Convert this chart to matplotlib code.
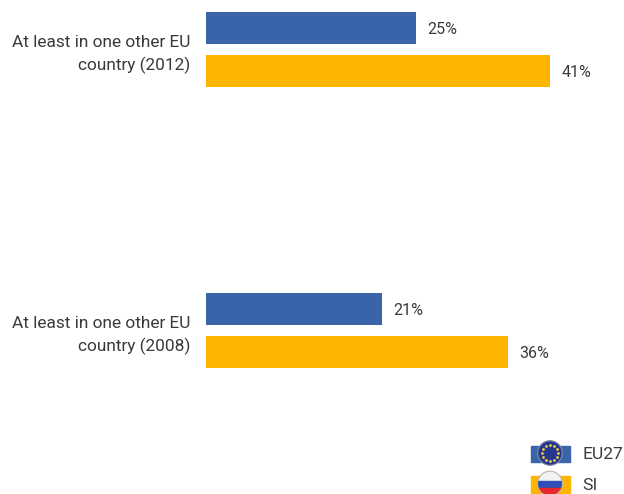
import numpy as np
import matplotlib
matplotlib.use("Agg")
import matplotlib.pyplot as plt
from matplotlib.patches import Circle, Rectangle

plt.rcParams["font.family"] = ["Roboto", "Liberation Sans", "DejaVu Sans"]

categories = ["At least in one other EU\ncountry (2012)", "At least in one other EU\ncountry (2008)"]
eu27 = [25, 21]
si = [41, 36]
series_names = ["EU27", "SI"]

BLUE = "#3A64A9"
ORANGE = "#FFB400"
TEXT = "#3a3a3a"

W, H = 624, 494
fig = plt.figure(figsize=(W / 100, H / 100), dpi=100)

ax = fig.add_axes([206 / W, 0, 418 / W, 1])
y = np.arange(len(categories))
ax.barh(y - 0.0765, eu27, height=0.114, color=BLUE)
ax.barh(y + 0.0765, si, height=0.114, color=ORANGE)
ax.set_xlim(0, 49.8)
ax.set_ylim(1.582, -0.176)
ax.set_yticks(y)
ax.set_yticklabels(categories, fontsize=12.4, color=TEXT, ha="right", linespacing=1.52)
ax.tick_params(axis="y", length=0, pad=11)
ax.set_xticks([])
for s in ax.spines.values():
    s.set_visible(False)

for i in y:
    ax.text(eu27[i] + 1.35, i - 0.072, f"{eu27[i]}%", va="center", fontsize=11.5, color=TEXT)
    ax.text(si[i] + 1.35, i + 0.081, f"{si[i]}%", va="center", fontsize=11.5, color=TEXT)

# legend with round flags, drawn in pixel coordinates
leg = fig.add_axes([0, 0, 1, 1], facecolor="none")
leg.set_xlim(0, W)
leg.set_ylim(H, 0)
leg.axis("off")

leg.add_patch(Rectangle((531, 446), 39, 15.5, color=BLUE))
leg.add_patch(Circle((550, 453), 12.3, facecolor="#27378f", edgecolor="#8a8fa8", linewidth=0.8))
star_angles = np.arange(12) * np.pi / 6
leg.scatter(550 + 8 * np.cos(star_angles), 453 + 8 * np.sin(star_angles), s=4, color="#e8d23a", linewidths=0)

leg.add_patch(Rectangle((531, 476), 39, 17, color=ORANGE))
cy = 483.5
leg.add_patch(Circle((550, cy), 12.3, facecolor="#f2f2f2", edgecolor="#b5b5b5", linewidth=0.8))
blue_band = Rectangle((537, cy - 3), 26, 7.5, color="#2f50b8")
red_band = Rectangle((537, cy + 4), 26, 9, color="#e8262c")
for band in (blue_band, red_band):
    leg.add_patch(band)
    band.set_clip_path(Circle((550, cy), 12, transform=leg.transData))

leg.text(582, 454, series_names[0], fontsize=12.6, color=TEXT, va="center")
leg.text(582, 485, series_names[1], fontsize=12.6, color=TEXT, va="center")

fig.savefig("out.png", dpi=100)
